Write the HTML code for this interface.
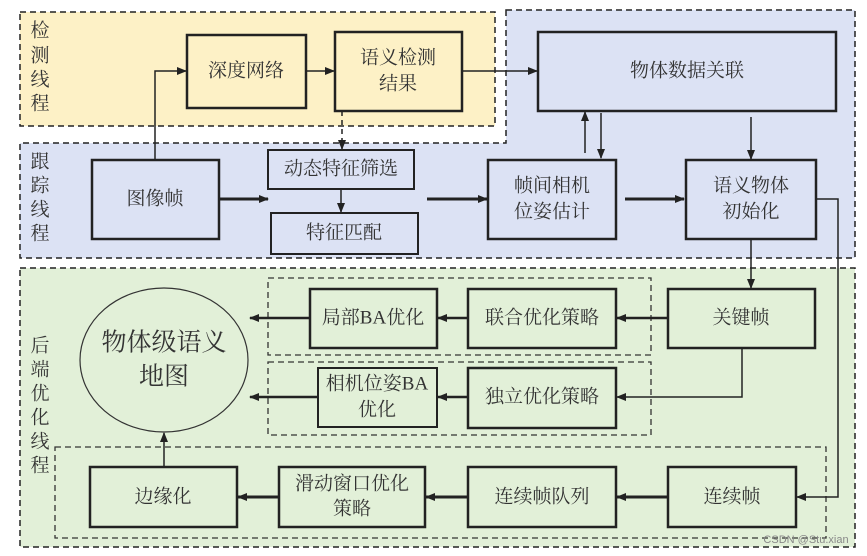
<!DOCTYPE html>
<html><head><meta charset="utf-8"><style>
html,body{margin:0;padding:0;background:#fff;}
svg{display:block;}
text{font-family:"Liberation Serif","Noto Serif CJK SC",serif;fill:#333;font-size:19px;text-anchor:middle;dominant-baseline:central;}
</style></head><body>
<svg width="867" height="556" viewBox="0 0 867 556" xmlns="http://www.w3.org/2000/svg">
<defs>
<marker id="a" markerWidth="10" markerHeight="8" refX="9" refY="4" orient="auto" markerUnits="userSpaceOnUse">
<path d="M0,0 L10,4 L0,8 Z" fill="#222"/></marker>
</defs>
<rect x="20" y="12" width="475" height="114" fill="#fdf1c6" stroke="#222" stroke-width="1.5" stroke-dasharray="6,4"/>
<path d="M506,10 H855 V258 H20 V143 H506 Z" fill="#dce2f4" stroke="#222" stroke-width="1.5" stroke-dasharray="6,4"/>
<rect x="20" y="268" width="835" height="279" fill="#e2f0d8" stroke="#222" stroke-width="1.5" stroke-dasharray="6,4"/>
<rect x="268" y="278" width="383" height="77" fill="none" stroke="#333" stroke-width="1.3" stroke-dasharray="6,4"/>
<rect x="268" y="362" width="383" height="73" fill="none" stroke="#333" stroke-width="1.3" stroke-dasharray="6,4"/>
<rect x="55" y="447" width="771" height="91" fill="none" stroke="#333" stroke-width="1.3" stroke-dasharray="6,4"/>
<g style="font-size:19px">
<text x="40" y="31">检</text><text x="40" y="56">测</text><text x="40" y="80">线</text><text x="40" y="104">程</text>
<text x="40" y="162">跟</text><text x="40" y="186">踪</text><text x="40" y="210">线</text><text x="40" y="234">程</text>
<text x="40" y="346">后</text><text x="40" y="370">端</text><text x="40" y="394">优</text><text x="40" y="418">化</text><text x="40" y="442">线</text><text x="40" y="466">程</text>
</g>
<g stroke="#222" stroke-width="2.5">
<rect x="187" y="35" width="119" height="73" fill="#fdf1c6"/>
<rect x="335" y="32" width="127" height="79" fill="#fdf1c6"/>
<rect x="538" y="32" width="298" height="79" fill="#dce2f4"/>
<rect x="92" y="160" width="127" height="79" fill="#dce2f4"/>
<rect x="268" y="150" width="146" height="39" fill="#dce2f4" stroke-width="2"/>
<rect x="271" y="213" width="147" height="41" fill="#dce2f4" stroke-width="2"/>
<rect x="488" y="160" width="128" height="79" fill="#dce2f4"/>
<rect x="686" y="160" width="130" height="79" fill="#dce2f4"/>
<rect x="668" y="289" width="147" height="59" fill="#e2f0d8"/>
<rect x="468" y="289" width="148" height="59" fill="#e2f0d8"/>
<rect x="310" y="289" width="127" height="59" fill="#e2f0d8"/>
<rect x="318" y="368" width="119" height="59" fill="#e2f0d8" stroke-width="2"/>
<rect x="468" y="368" width="148" height="60" fill="#e2f0d8"/>
<rect x="90" y="467" width="147" height="60" fill="#e2f0d8"/>
<rect x="279" y="467" width="146" height="60" fill="#e2f0d8"/>
<rect x="468" y="467" width="148" height="60" fill="#e2f0d8"/>
<rect x="668" y="467" width="128" height="60" fill="#e2f0d8"/>
</g>
<ellipse cx="164" cy="360" rx="84" ry="72" fill="#e2f0d8" stroke="#333" stroke-width="1.2"/>
<text x="246" y="71">深度网络</text>
<text x="398" y="58">语义检测</text><text x="398" y="84">结果</text>
<text x="687" y="71">物体数据关联</text>
<text x="155" y="199">图像帧</text>
<text x="341" y="169">动态特征筛选</text>
<text x="344" y="233">特征匹配</text>
<text x="552" y="186">帧间相机</text><text x="552" y="212">位姿估计</text>
<text x="751" y="186">语义物体</text><text x="751" y="212">初始化</text>
<text x="741" y="318">关键帧</text>
<text x="542" y="318">联合优化策略</text>
<text x="373" y="318">局部BA优化</text>
<text x="377" y="384">相机位姿BA</text><text x="377" y="410">优化</text>
<text x="542" y="397">独立优化策略</text>
<text x="163" y="497">边缘化</text>
<text x="352" y="484">滑动窗口优化</text><text x="352" y="509">策略</text>
<text x="542" y="497">连续帧队列</text>
<text x="732" y="497">连续帧</text>
<text x="164" y="343" style="font-size:25px">物体级语义</text>
<text x="164" y="377" style="font-size:25px">地图</text>
<text x="806" y="540" style="font-size:11px;fill:#888;font-family:'Liberation Sans',sans-serif">CSDN @Stu.xian</text>
<g stroke="#222" fill="none" stroke-width="1.5">
<path d="M155,160 V71 H186" marker-end="url(#a)"/>
<path d="M306,71 H334" marker-end="url(#a)"/>
<path d="M462,71 H537" marker-end="url(#a)"/>
<path d="M342,111 V149" stroke-dasharray="5,4" marker-end="url(#a)"/>
<path d="M341,189 V212" marker-end="url(#a)"/>
<path d="M219,199 H268" stroke-width="3" marker-end="url(#a)"/>
<path d="M427,199 H487" stroke-width="3" marker-end="url(#a)"/>
<path d="M625,199 H684" stroke-width="3" marker-end="url(#a)"/>
<path d="M585,153 V112" marker-end="url(#a)"/>
<path d="M601,113 V158" marker-end="url(#a)"/>
<path d="M751,117 V159" marker-end="url(#a)"/>
<path d="M751,239 V288" marker-end="url(#a)"/>
<path d="M816,199 H838 V497 H797" marker-end="url(#a)"/>
<path d="M668,318 H617" stroke-width="2.5" marker-end="url(#a)"/>
<path d="M468,318 H438" stroke-width="2.5" marker-end="url(#a)"/>
<path d="M310,318 H250" stroke-width="2.5" marker-end="url(#a)"/>
<path d="M742,348 V397 H617" marker-end="url(#a)"/>
<path d="M468,397 H438" stroke-width="2.5" marker-end="url(#a)"/>
<path d="M318,397 H250" stroke-width="2.5" marker-end="url(#a)"/>
<path d="M668,497 H617" stroke-width="3" marker-end="url(#a)"/>
<path d="M468,497 H426" stroke-width="3" marker-end="url(#a)"/>
<path d="M279,497 H238" stroke-width="3" marker-end="url(#a)"/>
<path d="M164,467 V433" marker-end="url(#a)"/>
</g>
</svg>
</body></html>
